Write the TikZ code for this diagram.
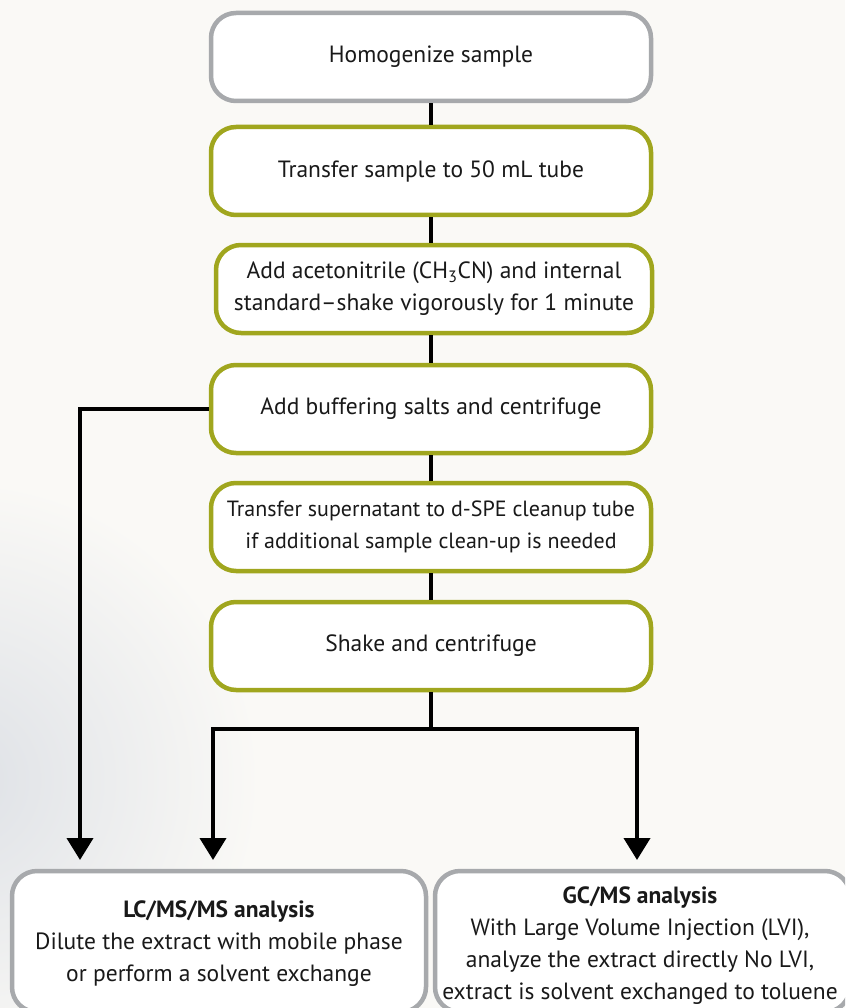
\documentclass[tikz,border=0pt]{standalone}
\usepackage{fontspec}
\setmainfont{PT Sans}
\usetikzlibrary{arrows.meta,positioning}
\definecolor{bgcol}{RGB}{250,249,246}
\definecolor{photo}{RGB}{222,225,230}
\definecolor{olive}{RGB}{160,166,30}
\definecolor{grayb}{RGB}{167,169,172}
\definecolor{txt}{RGB}{25,25,25}
\tikzset{
  stepbox/.style={draw=olive, line width=4.5pt, rounded corners=25pt, fill=white,
    minimum width=440pt, minimum height=88pt, align=center, text=txt,
    font=\fontsize{23.5}{32}\selectfont, inner sep=2pt},
  graybox/.style={stepbox, draw=grayb},
  conn/.style={line width=4pt, draw=black},
  arr/.style={conn, -{Triangle[width=26pt,length=22pt]}}
}
\begin{document}
\begin{tikzpicture}[x=1pt,y=-1pt]
\useasboundingbox (0,0) rectangle (845,1008);
\begin{scope}
\clip (0,0) rectangle (845,1008);
\fill[bgcol] (0,0) rectangle (845,1008);
\shade[inner color=photo, outer color=bgcol] (-40,780) circle (300);
\end{scope}

\node[graybox] (b1) at (431,57) {Homogenize sample};
\node[stepbox] (b2) at (431,171) {Transfer sample to 50 mL tube};
\node[stepbox, minimum width=436pt] (b3) at (434,289) {Add acetonitrile (CH\textsubscript{3}CN) and internal\\standard–shake vigorously for 1 minute};
\node[stepbox] (b4) at (431,409) {Add buffering salts and centrifuge};
\node[stepbox, font=\fontsize{22}{32}\selectfont] (b5) at (431,527) {Transfer supernatant to d-SPE cleanup tube\\if additional sample clean-up is needed};
\node[stepbox] (b6) at (431,646) {Shake and centrifuge};

\begin{scope}
\clip (0,0) rectangle (845,1008);
\node[graybox, minimum width=414pt, minimum height=141pt] (lc) at (219,941.5) {};
\node[graybox, minimum width=415pt, minimum height=141pt] (gc) at (642.5,941.5) {};
\end{scope}
\node[align=center, text=txt, font=\fontsize{23.5}{32}\selectfont] (lct) at (219,943.5)
  {\textbf{LC/MS/MS analysis}\\Dilute the extract with mobile phase\\or perform a solvent exchange};
\node[align=center, text=txt, font=\fontsize{23.5}{32}\selectfont] (gct) at (640,946)
  {\textbf{GC/MS analysis}\\With Large Volume Injection (LVI),\\analyze the extract directly No LVI,\\extract is solvent exchanged to toluene};

\coordinate (j) at (431,729);
\coordinate (aL) at (80,860);
\coordinate (aM) at (213,860);
\coordinate (aR) at (637,860);

\draw[conn] (b1.south) -- (b2.north);
\draw[conn] (b2.south) -- (b3.north -| b2.south);
\draw[conn] (b3.south -| b2.south) -- (b4.north);
\draw[conn] (b4.south) -- (b5.north);
\draw[conn] (b5.south) -- (b6.north);
\draw[conn] (b6.south) -- (j);
\draw[arr] (j) -| (aM);
\draw[arr] (j) -| (aR);
\draw[arr] (b4.west) -| (aL);
\end{tikzpicture}
\end{document}
